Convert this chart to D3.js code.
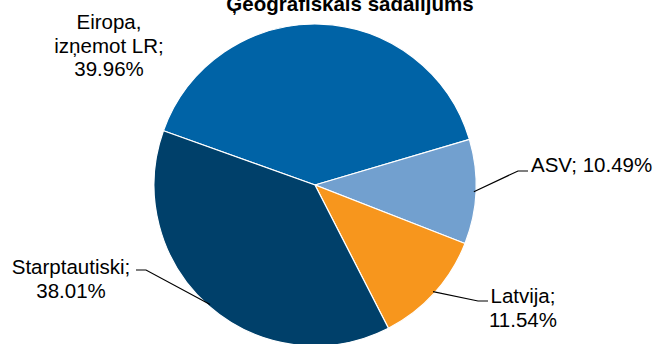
<!DOCTYPE html>
<html lang="lv">
<head>
    <meta charset="UTF-8">
    <title>Ģeogrāfiskais sadalījums</title>
    <script src="https://d3js.org/d3.v7.min.js"></script>
    <style>
        body { margin: 0; background: #fff; overflow: hidden; }
        svg { display: block; }
        text { font-family: Arial, "Liberation Sans", sans-serif; fill: #000; }
        .leader { fill: none; stroke: #000; stroke-width: 1.2px; }
    </style>
</head>
<body>
<script>
    // Data
    const categories = ["Eiropa, izņemot LR", "ASV", "Latvija", "Starptautiski"];
    const shares = [39.96, 10.49, 11.54, 38.01];
    const colors = ["#0063a6", "#72a0cf", "#f7961d", "#00406a"];
    const labelLines = [
        ["Eiropa,", "izņemot LR;", "39.96%"],
        ["ASV; 10.49%"],
        ["Latvija;", "11.54%"],
        ["Starptautiski;", "38.01%"]
    ];

    const width = 659, height = 344;
    const cx = 315, cy = 185, radius = 161;

    const svg = d3.select("body").append("svg")
        .attr("width", width)
        .attr("height", height);

    // Title (sits partly above the frame, as in the original)
    svg.append("text")
        .attr("x", 350)
        .attr("y", 11)
        .attr("text-anchor", "middle")
        .attr("font-size", "20.5px")
        .attr("font-weight", "bold")
        .text("Ģeogrāfiskais sadalījums");

    const startAngle = -70.3 * Math.PI / 180;
    const pie = d3.pie()
        .sort(null)
        .startAngle(startAngle)
        .endAngle(startAngle + 2 * Math.PI)
        .value(d => d);

    const arcs = pie(shares);
    const arc = d3.arc().innerRadius(0).outerRadius(radius);

    const g = svg.append("g").attr("transform", `translate(${cx},${cy})`);

    g.selectAll("path")
        .data(arcs)
        .join("path")
        .attr("d", arc)
        .attr("fill", (d, i) => colors[i])
        .attr("stroke", "#fff")
        .attr("stroke-width", 1.2);

    // label positions (first baseline, line height 23.5)
    const labelPos = [
        { x: 109, y: 29, anchor: "middle", leader: null },
        { x: 531, y: 172, anchor: "start", leader: { elbow: [518, 171], end: [528, 171] } },
        { x: 523, y: 303, anchor: "middle", leader: { elbow: [478, 301], end: [488, 301] } },
        { x: 71, y: 274, anchor: "middle", leader: { elbow: [146, 270], end: [136, 270] } }
    ];

    arcs.forEach((a, i) => {
        const p = labelPos[i];
        const t = svg.append("text")
            .attr("text-anchor", p.anchor)
            .attr("font-size", "20.5px");
        labelLines[i].forEach((line, j) => {
            t.append("tspan")
                .attr("x", p.x)
                .attr("y", p.y + j * 23.5)
                .text(line);
        });
        if (p.leader) {
            const mid = (a.startAngle + a.endAngle) / 2;
            const rr = radius - 2;
            const sx = cx + rr * Math.sin(mid), sy = cy - rr * Math.cos(mid);
            svg.append("path")
                .attr("class", "leader")
                .attr("d", d3.line()([[sx, sy], p.leader.elbow, p.leader.end]));
        }
    });
</script>
</body>
</html>
